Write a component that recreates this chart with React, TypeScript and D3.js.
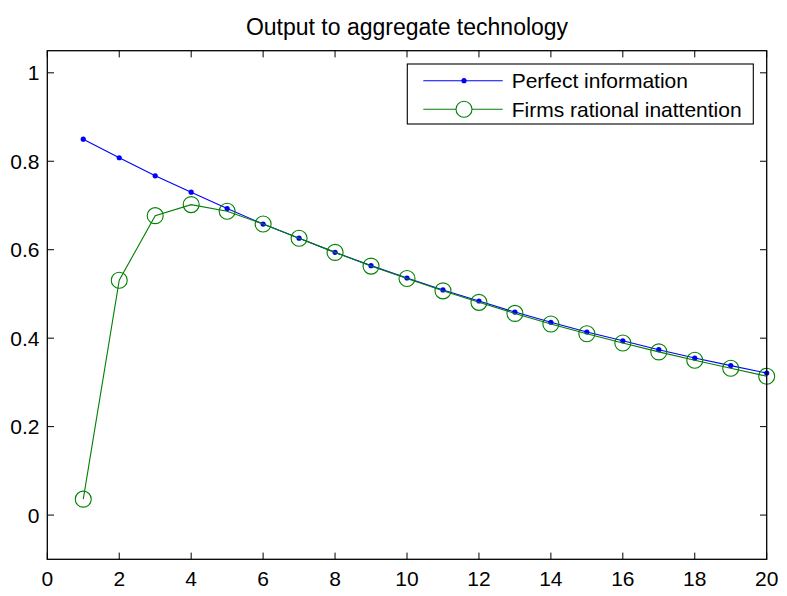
import React from "react";
import * as d3 from "d3";

const periods = [1, 2, 3, 4, 5, 6, 7, 8, 9, 10, 11, 12, 13, 14, 15, 16, 17, 18, 19, 20];
const perfectInfo = [0.850, 0.808, 0.767, 0.730, 0.693, 0.658, 0.626, 0.594, 0.564, 0.536, 0.509, 0.484, 0.459, 0.436, 0.414, 0.394, 0.374, 0.355, 0.338, 0.321];
const rationalInattention = [0.036, 0.531, 0.677, 0.702, 0.687, 0.658, 0.626, 0.594, 0.563, 0.535, 0.507, 0.481, 0.456, 0.432, 0.410, 0.389, 0.369, 0.350, 0.332, 0.314];
const xTicks = [0, 2, 4, 6, 8, 10, 12, 14, 16, 18, 20];
const yTicks = [0, 0.2, 0.4, 0.6, 0.8, 1];
const yTickLabels = ["0", "0.2", "0.4", "0.6", "0.8", "1"];
const seriesNames = ["Perfect information", "Firms rational inattention"];
const title = "Output to aggregate technology";

const W = 787, H = 596;
const left = 47.3, right = 766.7, top = 50.7, bottom = 559.3;
const FONT = "'Liberation Sans', Arial, Helvetica, sans-serif";

export default function App() {
  const x = d3.scaleLinear().domain([0, 20]).range([left, right]);
  const y = d3.scaleLinear().domain([-0.1, 1.05]).range([bottom, top]);
  const line = d3.line<number>().x((_, i) => x(periods[i])).y((d) => y(d));
  const tl = 6.7;
  const blue = "#0000ff";
  const green = "#008000";
  const lgX0 = 407.3, lgY0 = 64, lgX1 = 753.3, lgY1 = 124;
  const rows = [80.7, 109.3];
  return (
    <svg width={W} height={H} style={{ position: "absolute", left: 0, top: 0, background: "#fff" }} fontFamily={FONT}>
      <rect x={0} y={0} width={W} height={H} fill="#fff" />
      <text x={(left + right) / 2} y={34.5} textAnchor="middle" fontSize={23} fill="#000">{title}</text>
      {/* ticks */}
      {xTicks.map((t) => (
        <g key={"x" + t}>
          <line x1={x(t)} x2={x(t)} y1={bottom} y2={bottom - tl} stroke="#000" strokeWidth={1} />
          <line x1={x(t)} x2={x(t)} y1={top} y2={top + tl} stroke="#000" strokeWidth={1} />
          <text x={x(t)} y={586} textAnchor="middle" fontSize={21} fill="#000">{t}</text>
        </g>
      ))}
      {yTicks.map((t, i) => (
        <g key={"y" + t}>
          <line x1={left} x2={left + tl} y1={y(t)} y2={y(t)} stroke="#000" strokeWidth={1} />
          <line x1={right} x2={right - tl} y1={y(t)} y2={y(t)} stroke="#000" strokeWidth={1} />
          <text x={39.5} y={y(t)} dy="0.36em" textAnchor="end" fontSize={21} fill="#000">{yTickLabels[i]}</text>
        </g>
      ))}
      {/* series */}
      <path d={line(perfectInfo) || ""} fill="none" stroke={blue} strokeWidth={1.1} />
      {perfectInfo.map((v, i) => (
        <circle key={"b" + i} cx={x(periods[i])} cy={y(v)} r={2.6} fill={blue} />
      ))}
      <path d={line(rationalInattention) || ""} fill="none" stroke={green} strokeWidth={1.1} />
      {rationalInattention.map((v, i) => (
        <circle key={"g" + i} cx={x(periods[i])} cy={y(v)} r={8} fill="none" stroke={green} strokeWidth={1.1} />
      ))}
      {/* axes box */}
      <rect x={left} y={top} width={right - left} height={bottom - top} fill="none" stroke="#000" strokeWidth={1.3} />
      {/* legend */}
      <rect x={lgX0} y={lgY0} width={lgX1 - lgX0} height={lgY1 - lgY0} fill="#fff" stroke="#000" strokeWidth={1.1} />
      <line x1={423.3} x2={502.7} y1={rows[0]} y2={rows[0]} stroke={blue} strokeWidth={1.1} />
      <circle cx={464} cy={rows[0]} r={2.6} fill={blue} />
      <text x={511.7} y={rows[0]} dy="0.36em" fontSize={21} fill="#000">{seriesNames[0]}</text>
      <line x1={423.3} x2={502.7} y1={rows[1]} y2={rows[1]} stroke={green} strokeWidth={1.1} />
      <circle cx={464} cy={rows[1]} r={8} fill="#fff" stroke={green} strokeWidth={1.1} />
      <text x={511.7} y={rows[1]} dy="0.36em" fontSize={21} fill="#000">{seriesNames[1]}</text>
    </svg>
  );
}
